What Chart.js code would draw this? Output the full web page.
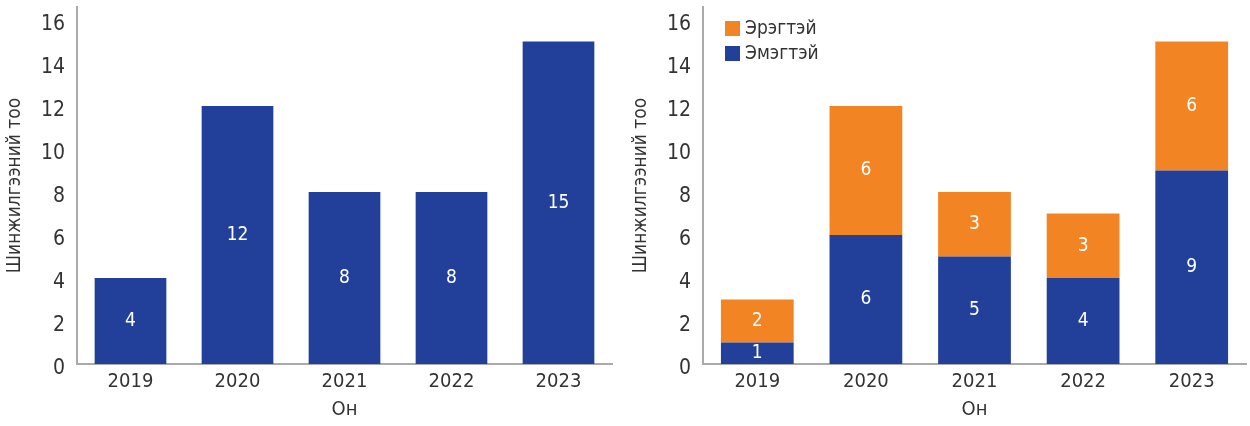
<!DOCTYPE html>
<html>
<head>
<meta charset="utf-8">
<script src="https://cdn.jsdelivr.net/npm/chart.js@4"></script>
<style>
  body { margin: 0; background: #fff; }
  .wrap { display: flex; width: 1250px; height: 426px; }
  #left-box { width: 626px; height: 426px; position: relative; }
  #right-box { width: 624px; height: 426px; position: relative; }
</style>
</head>
<body>
<div class="wrap">
  <div id="left-box"><canvas id="total-chart"></canvas></div>
  <div id="right-box"><canvas id="gender-chart"></canvas></div>
</div>
<script>
const years = ["2019", "2020", "2021", "2022", "2023"];
const totals = [4, 12, 8, 8, 15];
const women = [1, 6, 5, 4, 9];
const men = [2, 6, 3, 3, 6];
const yTicks = [0, 2, 4, 6, 8, 10, 12, 14, 16];

const BLUE = "#22409a";
const ORANGE = "#f38423";
const FONT = "'Liberation Sans Narrow', 'DejaVu Sans Condensed', 'Roboto', sans-serif";

Chart.defaults.font.family = FONT;
Chart.defaults.color = "#333";

// white numbers in the middle of each bar segment
const barLabels = {
  id: "barLabels",
  afterDatasetsDraw(chart) {
    const ctx = chart.ctx;
    ctx.save();
    ctx.fillStyle = "#fff";
    ctx.font = "19px " + FONT;
    ctx.textAlign = "center";
    ctx.textBaseline = "middle";
    chart.data.datasets.forEach((ds, i) => {
      chart.getDatasetMeta(i).data.forEach((bar, j) => {
        ctx.fillText(ds.data[j], bar.x, (bar.y + bar.base) / 2);
      });
    });
    ctx.restore();
  },
};

// legend drawn inside the plot area, top left
const insideLegend = {
  id: "insideLegend",
  afterDraw(chart) {
    if (!chart.options.plugins.insideLegend) return;
    const ctx = chart.ctx;
    const area = chart.chartArea;
    const items = chart.data.datasets.slice().reverse();
    ctx.save();
    ctx.font = "19px " + FONT;
    ctx.textBaseline = "middle";
    items.forEach((ds, i) => {
      const y = area.top + 21 + i * 25;
      ctx.fillStyle = ds.backgroundColor;
      ctx.fillRect(area.left + 22, y - 7, 15, 15);
      ctx.fillStyle = "#333";
      ctx.fillText(ds.label, area.left + 42, y + 1);
    });
    ctx.restore();
  },
};

function makeOptions(withLegend, rightPad) {
  return {
    responsive: true,
    maintainAspectRatio: false,
    animation: false,
    layout: { padding: { top: 7, right: rightPad, left: 0, bottom: 0 } },
    plugins: {
      legend: { display: false },
      tooltip: { enabled: false },
      insideLegend: withLegend,
    },
    scales: {
      x: {
        stacked: true,
        grid: { display: false, drawTicks: false },
        border: { color: "#aaa", width: 2 },
        ticks: { font: { size: 20 }, padding: 6 },
        title: { display: true, text: "Он", font: { size: 20 }, padding: { top: 4 } },
        afterFit(scale) { scale.height = 62; },
      },
      y: {
        stacked: true,
        min: 0,
        max: 16.6,
        grid: { display: false, drawTicks: false },
        border: { color: "#aaa", width: 2 },
        ticks: { font: { size: 21 }, padding: 12, labelOffset: 5 },
        afterBuildTicks(scale) {
          scale.ticks = yTicks.map(v => ({ value: v }));
        },
        title: { display: true, text: "Шинжилгээний тоо", font: { size: 19 }, padding: { bottom: 4 } },
        afterFit(scale) {
          scale.width = 77;
          scale.paddingTop = 0;
          scale.paddingBottom = 0;
        },
      },
    },
  };
}

const totalChart = new Chart(document.querySelector("#total-chart").getContext("2d"), {
  type: "bar",
  data: {
    labels: years,
    datasets: [
      {
        label: "Нийт",
        data: totals,
        backgroundColor: BLUE,
        categoryPercentage: 1,
        barPercentage: 0.67,
      },
    ],
  },
  options: makeOptions(false, 14),
  plugins: [barLabels, insideLegend],
});

const genderChart = new Chart(document.querySelector("#gender-chart").getContext("2d"), {
  type: "bar",
  data: {
    labels: years,
    datasets: [
      {
        label: "Эмэгтэй",
        data: women,
        backgroundColor: BLUE,
        categoryPercentage: 1,
        barPercentage: 0.67,
      },
      {
        label: "Эрэгтэй",
        data: men,
        backgroundColor: ORANGE,
        categoryPercentage: 1,
        barPercentage: 0.67,
      },
    ],
  },
  options: makeOptions(true, 4),
  plugins: [barLabels, insideLegend],
});
</script>
</body>
</html>
